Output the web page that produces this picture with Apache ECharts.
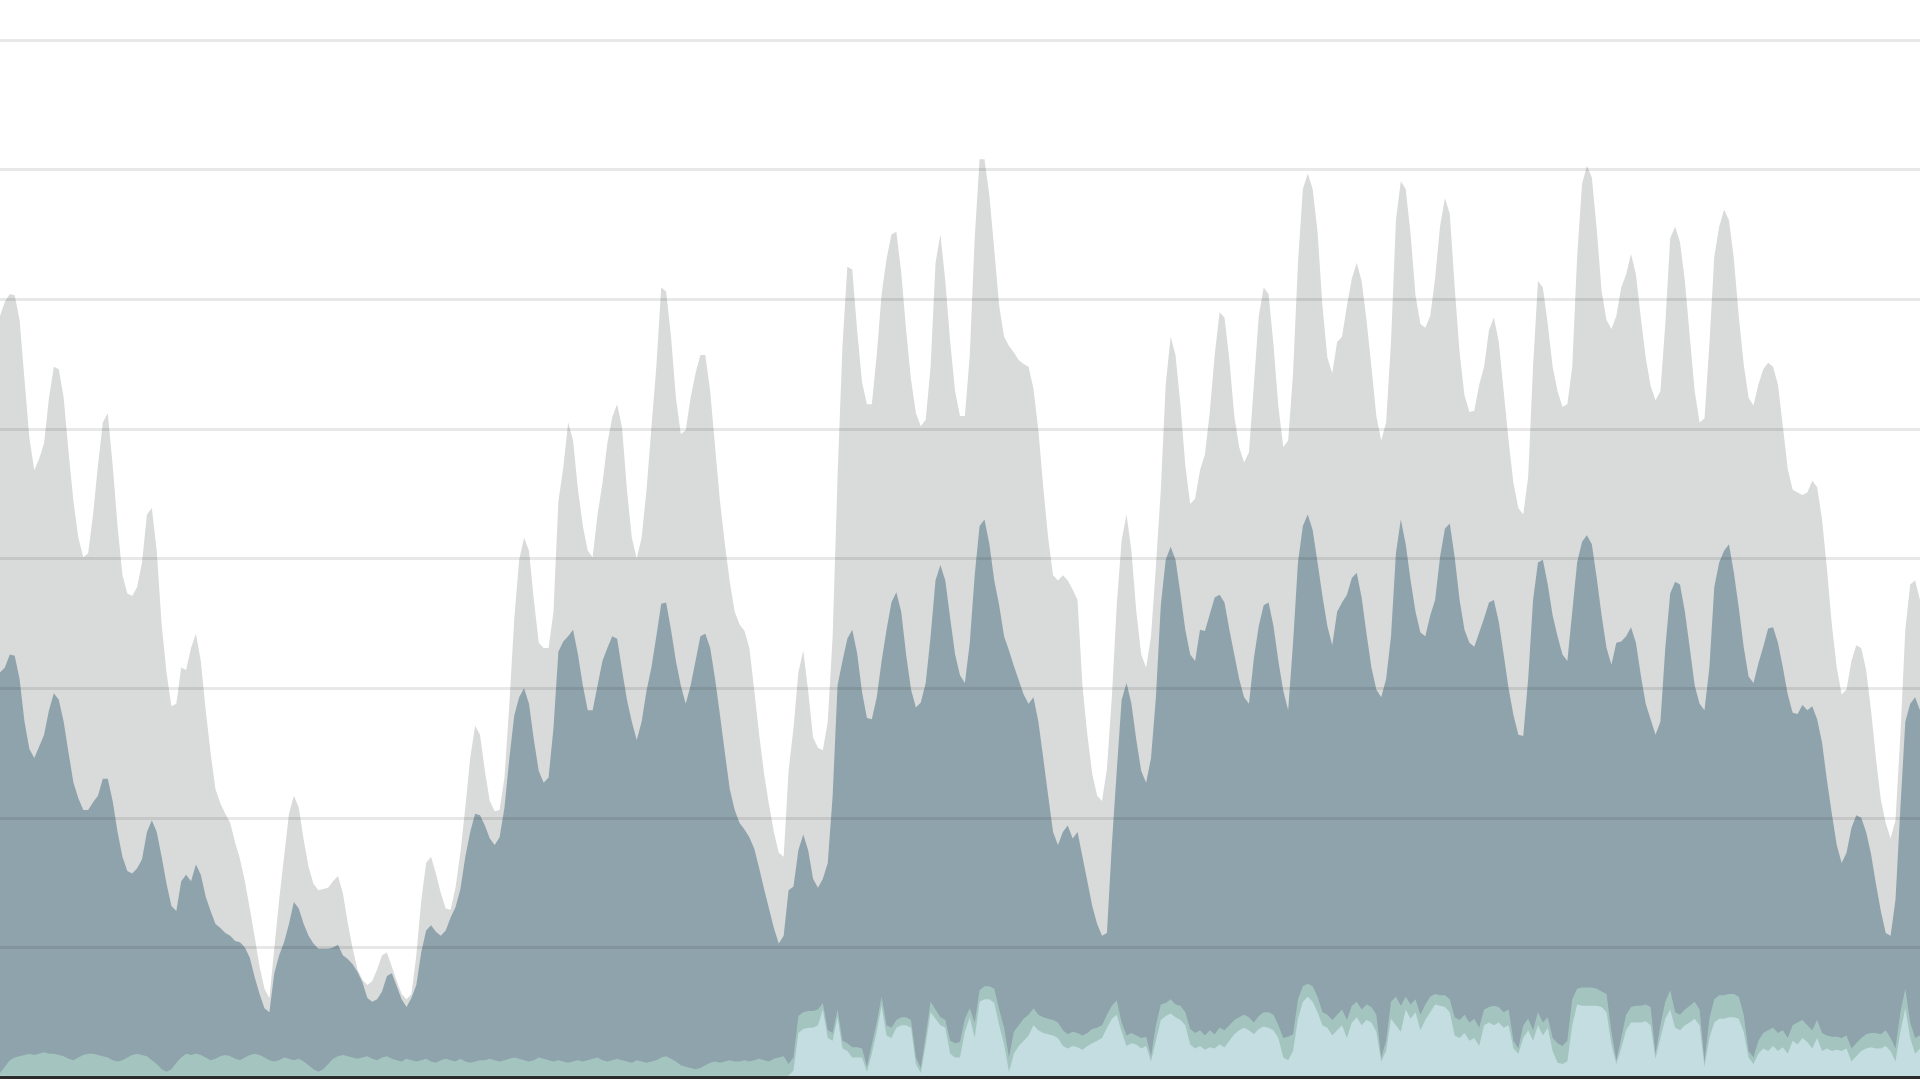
<!DOCTYPE html>
<html>
<head>
<meta charset="utf-8">
<script src="https://cdn.jsdelivr.net/npm/echarts@6/dist/echarts.min.js"></script>
<style>
html,body{margin:0;padding:0;background:#fff;}
#chart{width:1920px;height:1080px;}
</style>
</head>
<body>
<div id="chart"></div>
<script>
// time steps (regular sampling, one per step)
const stepCount = 393;
const categories = Array.from({length: stepCount}, (_, i) => 'T' + i);

// outer light-grey layer (total)
const totalVals = [
587,598,604,603,584,538,493,468,477,489,524,548,546,524,482,444,416,401,404,434,472,505,512,472,425,
387,373,371,378,397,434,439,406,349,312,286,288,316,314,331,342,321,283,250,222,211,203,196,181,168,
151,130,108,85,68,61,99,137,170,203,217,208,183,162,149,144,145,146,151,155,142,119,99,83,75,
71,74,83,94,96,85,74,64,60,64,94,136,165,170,157,142,130,129,146,173,208,246,271,264,236,
213,205,206,231,288,354,399,416,406,368,335,331,331,359,444,470,505,491,453,425,406,401,434,458,489,
509,519,501,453,416,400,416,453,501,548,609,606,571,524,496,499,524,543,557,557,529,486,444,411,382,
359,349,344,331,298,264,234,210,189,173,170,236,269,312,329,298,262,254,252,274,340,463,564,625,623,
576,536,519,519,557,604,631,650,652,621,576,538,512,502,507,548,628,650,614,567,529,510,510,557,647,
708,708,680,638,595,571,564,559,553,550,548,531,499,455,416,387,383,387,383,376,368,302,264,234,217,
213,238,293,364,414,434,406,359,326,316,340,394,453,534,571,557,519,472,442,446,468,480,513,557,590,
586,553,510,486,474,482,534,587,609,604,565,517,486,491,543,628,685,697,685,652,595,555,543,567,571,
595,616,628,614,584,548,510,491,505,567,661,691,685,650,603,581,578,587,616,656,678,666,609,559,526,
513,514,534,548,576,586,567,529,491,458,439,434,463,548,614,609,581,548,529,517,519,548,633,689,703,
694,654,606,584,577,587,609,619,635,619,586,555,533,522,529,581,647,656,644,614,571,529,505,508,565,
633,656,669,661,631,587,550,524,518,534,546,551,548,534,502,469,453,451,449,451,460,455,430,392,349,
316,295,299,321,333,331,314,283,246,214,196,184,198,264,345,380,383,368
];

// slate layer
const slateVals = [
312,316,326,325,307,274,253,246,255,264,283,296,291,274,250,227,215,206,206,212,217,230,230,213,189,
170,159,157,161,168,189,198,189,170,149,132,128,151,156,151,164,156,139,128,118,115,111,109,105,104,
100,92,77,64,53,50,80,94,104,118,135,130,118,109,103,99,99,99,100,102,94,91,87,81,73,
61,58,60,66,78,80,70,60,54,61,71,96,113,117,112,109,113,123,131,145,170,189,203,202,194,
184,179,185,208,246,279,293,300,288,260,236,227,231,269,328,336,340,345,326,302,283,283,302,321,331,
340,338,314,291,274,260,274,298,316,340,365,366,345,321,302,288,302,321,340,342,331,307,279,250,222,
206,196,191,185,176,161,145,130,115,103,109,144,147,175,187,175,153,146,153,165,217,302,321,338,345,
327,297,277,276,293,321,345,366,374,359,326,299,285,289,304,340,383,395,383,354,326,310,304,335,387,
425,430,411,383,364,340,329,317,306,295,288,293,274,246,217,189,179,189,194,184,189,170,151,132,118,
109,111,179,236,291,304,288,260,236,227,246,293,364,399,409,399,373,345,326,321,345,344,357,370,372,
366,345,326,307,293,288,323,348,364,366,348,321,298,283,335,397,425,434,422,397,371,348,333,359,366,
372,385,389,370,342,316,299,293,307,340,404,430,411,383,359,343,340,356,368,401,423,427,401,368,345,
335,332,343,354,366,368,351,326,300,279,264,263,307,368,397,399,380,356,340,326,321,359,397,413,418,
411,385,356,331,318,335,336,340,347,335,310,288,276,264,274,331,373,382,380,359,331,302,288,283,316,
378,397,406,411,389,362,332,309,304,319,332,346,347,335,316,295,281,280,287,283,286,276,258,229,203,
179,165,173,192,202,200,189,172,149,128,111,109,137,208,274,288,293,283
];

// sage-green layer
const greenVals = [
3,8,13,15,16,17,18,17,18,19,18,18,17,16,14,13,15,17,18,18,17,16,15,13,12,
13,15,17,18,17,16,13,10,6,4,6,11,15,18,17,18,17,15,13,14,16,17,16,14,13,
15,17,18,17,15,13,12,13,15,14,13,14,12,9,6,4,6,10,14,16,17,16,15,14,15,
16,14,13,15,16,14,13,12,14,13,12,13,14,12,11,13,14,13,12,14,12,11,12,13,13,
14,13,12,13,14,15,14,13,12,13,15,14,13,12,13,12,11,12,13,12,13,14,15,13,12,
13,14,13,12,11,13,12,11,12,13,15,16,14,12,9,8,7,6,7,9,11,12,11,12,13,
12,12,13,12,13,14,13,12,14,15,16,10,15,47,50,51,51,52,57,36,34,52,28,26,23,
23,22,8,25,42,62,40,38,44,46,46,44,15,7,32,58,52,46,44,28,26,27,45,53,42,
67,70,70,68,52,38,15,35,40,45,48,53,48,46,45,44,42,36,33,35,34,32,34,37,38,
40,48,55,59,42,32,34,32,30,31,16,40,56,57,60,56,55,50,37,34,36,32,36,33,38,
36,40,44,46,48,46,42,47,50,50,48,40,30,31,33,60,70,72,70,62,50,48,44,48,52,
44,55,58,52,56,54,48,15,28,58,62,55,62,56,60,48,56,62,64,63,63,60,46,44,48,
42,45,38,52,54,55,54,50,52,28,22,40,45,36,50,42,46,30,26,24,28,60,68,69,69,
69,68,66,64,35,13,30,48,54,55,55,56,54,18,40,58,67,50,48,52,55,58,52,12,45,
60,63,63,64,64,62,48,20,15,28,34,36,38,34,36,30,40,42,44,40,36,44,34,32,31,
31,30,32,22,26,30,33,34,34,33,36,30,22,50,68,42,30,32
];

// pale-cyan layer
const cyanVals = [
1,1,1,1,1,1,1,1,1,1,1,1,1,1,1,1,1,1,1,1,1,1,1,1,1,
1,1,1,1,1,1,1,1,1,1,1,1,1,1,1,1,1,1,1,1,1,1,1,1,1,
1,1,1,1,1,1,1,1,1,1,1,1,1,1,1,1,1,1,1,1,1,1,1,1,1,
1,1,1,1,1,1,1,1,1,1,1,1,1,1,1,1,1,1,1,1,1,1,1,1,1,
1,1,1,1,1,1,1,1,1,1,1,1,1,1,1,1,1,1,1,1,1,1,1,1,1,
1,1,1,1,1,1,1,1,1,1,1,1,1,1,1,1,1,1,1,1,1,1,1,1,1,
1,1,1,1,1,1,1,1,1,1,1,1,5,34,37,38,38,40,52,30,28,46,22,20,15,
15,15,4,18,35,55,32,30,38,40,40,38,10,3,25,50,45,40,38,18,15,15,35,46,30,
58,60,60,57,40,25,4,18,24,28,32,40,36,34,33,32,30,24,22,24,23,21,24,26,28,
30,38,45,48,35,24,26,25,22,24,12,28,44,47,49,46,44,40,25,22,24,21,23,22,25,
23,28,33,36,38,36,33,37,39,38,36,30,15,13,20,45,58,62,58,50,40,38,32,36,40,
30,42,46,40,44,42,35,12,20,45,40,35,52,45,50,36,44,50,56,55,54,50,32,30,34,
28,30,24,40,42,40,42,38,40,22,18,30,36,28,40,32,38,20,11,10,12,40,56,55,55,
55,55,54,50,25,10,22,36,42,42,42,43,40,14,30,45,52,38,36,40,42,45,40,8,30,
42,45,45,46,46,45,35,15,10,18,22,20,24,20,23,18,28,25,30,27,22,30,20,22,20,
21,20,22,12,16,20,22,23,22,22,24,20,12,35,53,30,18,22
];

// y scale ticks
const yMin = 0, yMax = 800, yStep = 100;

const chart = echarts.init(document.getElementById('chart'), null, {renderer: 'canvas'});

function areaSeries(name, data, color) {
  return {
    name: name,
    type: 'line',
    data: data,
    symbol: 'none',
    showSymbol: false,
    smooth: false,
    lineStyle: {width: 0, opacity: 0},
    areaStyle: {color: color, opacity: 1},
    emphasis: {disabled: true},
    silent: true
  };
}

chart.setOption({
  animation: false,
  backgroundColor: '#ffffff',
  grid: {left: 0, right: 0, top: 40, bottom: 3, containLabel: false},
  xAxis: {
    type: 'category',
    data: categories,
    boundaryGap: false,
    z: 12,
    axisLine: {show: true, lineStyle: {color: '#2b2b2b', width: 3}},
    axisTick: {show: false},
    axisLabel: {show: false},
    splitLine: {show: false}
  },
  yAxis: {
    type: 'value',
    min: yMin,
    max: yMax,
    interval: yStep,
    z: 10,
    axisLine: {show: false},
    axisTick: {show: false},
    axisLabel: {show: false},
    splitLine: {show: true, lineStyle: {color: 'rgba(0,0,0,0.09)', width: 3}}
  },
  series: [
    areaSeries('total', totalVals, '#d9dada'),
    areaSeries('slate', slateVals, '#8fa3ac'),
    areaSeries('green', greenVals, '#a4c5bf'),
    areaSeries('cyan', cyanVals, '#c3dde0')
  ]
});
</script>
</body>
</html>
